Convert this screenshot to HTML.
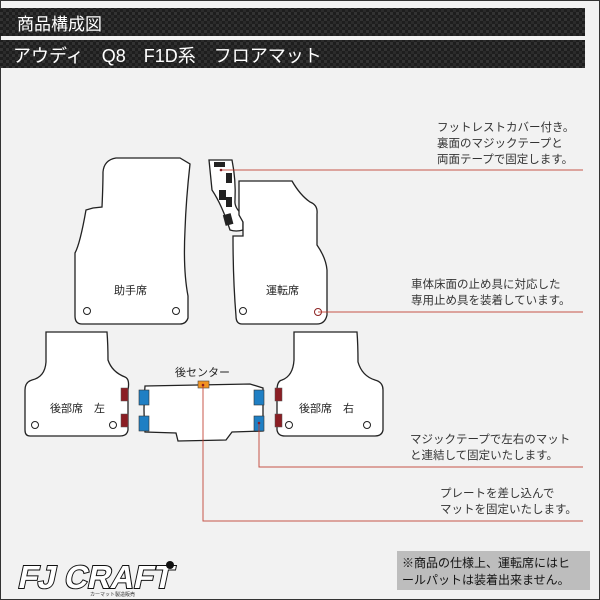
<!DOCTYPE html>
<html><head><meta charset="utf-8"><style>
html,body{margin:0;padding:0;width:600px;height:600px;overflow:hidden;background:#f2f2f2}
svg{display:block}
text{font-family:"Liberation Sans","Noto Sans CJK JP",sans-serif}
</style></head><body>
<svg width="600" height="600" viewBox="0 0 600 600" xmlns="http://www.w3.org/2000/svg">
<defs>
<pattern id="cf" width="6" height="6" patternUnits="userSpaceOnUse">
<rect width="6" height="6" fill="#1e1e1e"/>
<rect width="3" height="3" fill="#333"/>
<rect x="3" y="3" width="3" height="3" fill="#2b2b2b"/>
</pattern>
</defs>
<rect x="0" y="0" width="600" height="600" fill="#f2f2f2" stroke="#333" stroke-width="2"/>
<rect x="0" y="8" width="585" height="28" fill="url(#cf)"/>
<rect x="0" y="40" width="585" height="28" fill="url(#cf)"/>
<text x="17" y="30" font-size="17" fill="#fff">商品構成図</text>
<text x="13" y="62" font-size="18" fill="#fff">アウディ　Q8　F1D系　フロアマット</text>

<g fill="#fff" stroke="#222" stroke-width="1.3">
<path d="M103,172 Q104,160 116,158 L180,158 L190,164 Q186,200 185,230 Q183,270 188,296 L188,318 Q186,324 180,324 L82,324 Q75,324 75,316 L75,253 Q80,244 86,210 L93,208 L102,207 Q103,185 103,172 Z"/>
<path d="M209,160 L232,160 Q236,180 235,200 Q234,208 243,215 L243,230 Q236,232 230,230 Q222,205 212,190 Z"/>
<path d="M239,181 L292,181 Q300,195 310,202 Q318,205 317,214 L317,245 Q326,258 327,270 L327,315 Q325,324 317,324 L242,324 Q236,324 236,316 Q233,280 233,236 L243,236 L243,222 L239,215 Z"/>
<path d="M46,332 L107,332 Q108,345 108,360 Q112,372 125,377 Q130,379 128,390 L128,430 Q127,436 120,436 L30,436 Q25,436 25,430 L25,390 Q25,382 32,380 Q45,377 46,362 Z"/>
<path d="M294,332 L357,332 Q358,345 358,362 Q362,376 375,380 Q383,382 383,390 L383,430 Q382,436 375,436 L285,436 Q278,436 277,430 L277,390 Q277,381 282,380 Q293,376 294,360 Z"/>
<path d="M145,386 L250,384 L263,388 L263,431 L232,432 L226,440 L178,441 L176,433 L145,432 Q143,410 145,386 Z"/>
</g>
<g fill="#fff" stroke="#222" stroke-width="1">
<circle cx="87" cy="311" r="3.5"/><circle cx="176" cy="311" r="3.5"/>
<circle cx="243" cy="311" r="3.5"/><circle cx="318" cy="312" r="3.5" stroke="#8b2323"/>
<circle cx="35" cy="425" r="3.5"/><circle cx="113" cy="425" r="3.5"/>
<circle cx="289" cy="425" r="3.5"/><circle cx="367" cy="425" r="3.5"/>
</g>
<g fill="#222">
<rect x="214" y="162" width="11" height="5"/>
<rect x="226" y="173" width="6" height="10"/>
<rect x="219" y="190" width="7" height="10"/>
<rect x="226" y="197" width="6" height="10"/>
<rect x="224" y="214" width="8" height="11" transform="rotate(-15 228 219)"/>
</g>
<g fill="#8b1e24" stroke="#555" stroke-width="0.5">
<rect x="121" y="388" width="7" height="13"/><rect x="121" y="414" width="7" height="13"/>
<rect x="275" y="388" width="7" height="13"/><rect x="275" y="414" width="7" height="13"/>
</g>
<g fill="#1f7fc4" stroke="#333" stroke-width="0.6">
<rect x="139" y="390" width="10" height="15"/><rect x="139" y="416" width="10" height="15"/>
<rect x="254" y="390" width="10" height="15"/><rect x="254" y="416" width="10" height="15"/>
</g>
<rect x="198" y="381" width="11" height="7" fill="#f29422" stroke="#444" stroke-width="0.6"/>
<g stroke="#c0392b" stroke-width="1" fill="none" opacity="0.85">
<polyline points="221,170 583,170"/>
<polyline points="318,312 583,312"/>
<polyline points="259,423 259,467 583,467"/>
<polyline points="203,385 203,521 583,521"/>
</g>
<circle cx="221" cy="170" r="1.3" fill="#8b1e24"/>
<circle cx="259" cy="423" r="1.3" fill="#8b1e24"/>
<circle cx="203" cy="385" r="1.3" fill="#8b1e24"/>

<g font-size="11" fill="#222">
<text x="114" y="294">助手席</text>
<text x="266" y="294">運転席</text>
<text x="50" y="412">後部席　左</text>
<text x="299" y="412">後部席　右</text>
<text x="175" y="376">後センター</text>
</g>
<g font-size="11.5" fill="#333">
<text x="437" y="131">フットレストカバー付き。</text>
<text x="437" y="147">裏面のマジックテープと</text>
<text x="437" y="163">両面テープで固定します。</text>
<text x="411" y="288">車体床面の止め具に対応した</text>
<text x="411" y="304">専用止め具を装着しています。</text>
<text x="410" y="443">マジックテープで左右のマット</text>
<text x="410" y="459">と連結して固定いたします。</text>
<text x="440" y="497">プレートを差し込んで</text>
<text x="440" y="513">マットを固定いたします。</text>
</g>
<rect x="397" y="551" width="193" height="39" fill="#bdbdbd"/>
<text x="402" y="567" font-size="12" fill="#111">※商品の仕様上、運転席にはヒ</text>
<text x="402" y="584" font-size="12" fill="#111">ールパットは装着出来ません。</text>
<g transform="translate(22 0) skewX(-12)">
<text x="120" y="588" font-size="32" font-weight="bold" fill="#fff" stroke="#111" stroke-width="2" paint-order="stroke" font-family="Liberation Sans,sans-serif">FJ CRAFT</text>
</g>
<text x="90" y="596" font-size="5" fill="#333">カーマット製造販売</text>
<circle cx="170" cy="565" r="4" fill="#111"/>
</svg>
</body></html>
